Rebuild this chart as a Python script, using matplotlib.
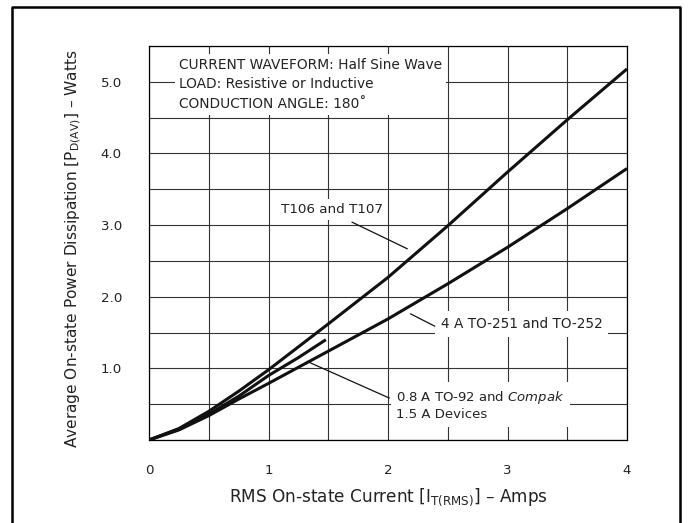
import matplotlib
matplotlib.use('Agg')
import matplotlib.pyplot as plt
from matplotlib import rc
from matplotlib.lines import Line2D

rc('mathtext', default='regular')
plt.rcParams['font.family'] = ['DejaVu Sans']

# curves (amps, watts)
amps = (0, 0.25, 0.5, 0.75, 1.0, 1.5, 2.0, 2.5, 3.0, 3.5, 4.0)
t106 = (0, 0.16, 0.40, 0.68, 0.98, 1.62, 2.27, 2.99, 3.74, 4.47, 5.18)
to251 = (0, 0.14, 0.34, 0.57, 0.79, 1.24, 1.69, 2.18, 2.69, 3.23, 3.79)

amps_to92 = (0, 0.25, 0.5, 0.75, 1.0, 1.25, 1.48)
to92 = (0, 0.15, 0.36, 0.61, 0.90, 1.15, 1.40)

xticks = (0, 1, 2, 3, 4)
yticks = (1.0, 2.0, 3.0, 4.0, 5.0)

# leader lines for the curve labels
lead_t106 = ((1.70, 2.16), (3.04, 2.67))
lead_to251 = ((2.19, 2.39), (1.76, 1.59))
lead_to92 = ((1.325, 2.01), (1.096, 0.586))

f = plt.figure(figsize=(6.88, 5.23), dpi=100)
ax = f.add_axes([149/688, 1-440/523, 478/688, 394/523])

ax.set_xlim(0, 4)
ax.set_ylim(0, 5.5)
ax.set_xticks(xticks)
ax.set_xticklabels([str(t) for t in xticks])
ax.set_xticks([i*0.5 for i in range(9)], minor=True)
ax.set_yticks(yticks)
ax.set_yticklabels(['%.1f' % t for t in yticks])
ax.set_yticks([i*0.5 for i in range(12)], minor=True)
ax.grid(which='both', color='#333333', linewidth=0.8)
ax.set_axisbelow(True)
ax.tick_params(which='both', length=0, labelsize=9.6, colors='#222222')
ax.tick_params(axis='x', pad=17.5)
ax.tick_params(axis='y', pad=19.5)
for s in ax.spines.values():
    s.set_linewidth(0.9)

ax.plot(amps, t106, color='#111111', linewidth=2.2, solid_capstyle='butt', zorder=5)
ax.plot(amps, to251, color='#111111', linewidth=2.2, solid_capstyle='butt', zorder=5)
ax.plot(amps_to92, to92, color='#111111', linewidth=2.2, solid_capstyle='butt', zorder=5)

for lx, ly in (lead_t106, lead_to251, lead_to92):
    ax.plot(lx, ly, color='#111111', linewidth=0.9, zorder=4)

tc = '#222222'
ax.text(0.25, 5.335, 'CURRENT WAVEFORM: Half Sine Wave\nLOAD: Resistive or Inductive\nCONDUCTION ANGLE: 180\u02da',
        fontsize=9.9, va='top', ha='left', linespacing=1.5, color=tc,
        bbox=dict(facecolor='white', edgecolor='none', pad=3), zorder=3)
ax.text(1.53, 3.22, 'T106 and T107', fontsize=9.7, ha='center', va='center', color=tc,
        bbox=dict(facecolor='white', edgecolor='none', pad=3), zorder=3)
ax.text(3.12, 1.62, '4 A TO-251 and TO-252', fontsize=9.8, ha='center', va='center', color=tc,
        bbox=dict(facecolor='white', edgecolor='none', pad=4), zorder=3)
ax.text(2.07, 0.485, '0.8 A TO-92 and $\\it{Compak}$\n1.5 A Devices', fontsize=9.5,
        ha='left', va='center', linespacing=1.2, color=tc,
        bbox=dict(facecolor='white', edgecolor='none', pad=4), zorder=3)

ax.set_xlabel(r'RMS On-state Current [I$_{\mathregular{T(RMS)}}$] – Amps', fontsize=12.2, color=tc)
ax.set_ylabel(r'Average On-state Power Dissipation [P$_{\mathregular{D(AV)}}$] – Watts', fontsize=11.1, color=tc)
ax.xaxis.set_label_coords(0.5, -0.117)
ax.yaxis.set_label_coords(-0.1375, 0.485)

# outer frame, open at the bottom
fx = (12/688, 12/688, 680/688, 680/688)
fy = (-0.02, 1-6.5/523, 1-6.5/523, -0.02)
f.add_artist(Line2D(fx, fy, transform=f.transFigure, color='black', linewidth=1.8))

plt.savefig('out.png', dpi=100)
